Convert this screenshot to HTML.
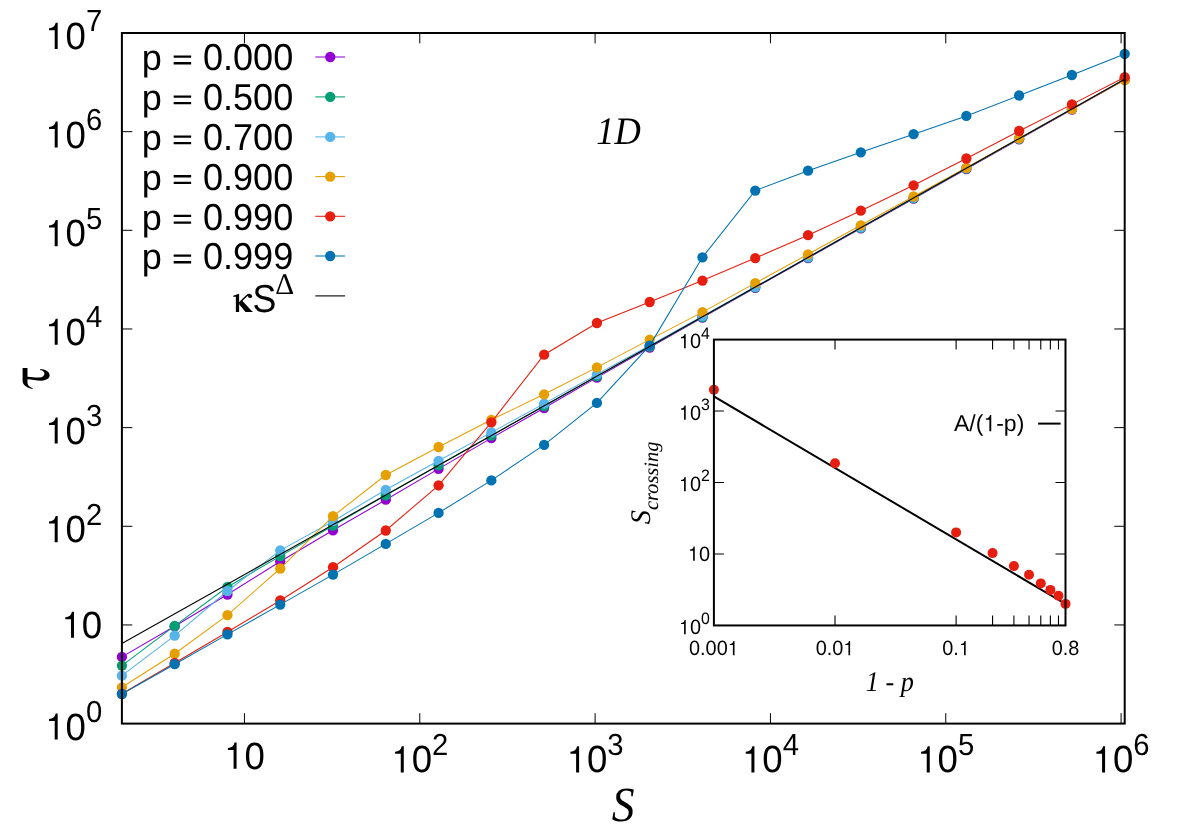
<!DOCTYPE html>
<html><head><meta charset="utf-8"><title>tau vs S</title>
<style>
html,body{margin:0;padding:0;background:#fff;}
body{width:1184px;height:829px;overflow:hidden;position:relative;font-family:"Liberation Sans",sans-serif;}
svg text{white-space:pre;text-rendering:geometricPrecision;}
</style></head><body>
<svg width="1184" height="829" viewBox="0 0 1184 829" style="position:absolute;left:0;top:0;will-change:transform">
<rect width="1184" height="829" fill="#fff"/>
<g stroke="#000" stroke-width="1" fill="none">
<path d="M244.45 723.6 V713.2 M244.45 33.0 V43.4"/>
<path d="M419.78 723.6 V713.2 M419.78 33.0 V43.4"/>
<path d="M595.10 723.6 V713.2 M595.10 33.0 V43.4"/>
<path d="M770.43 723.6 V713.2 M770.43 33.0 V43.4"/>
<path d="M945.76 723.6 V713.2 M945.76 33.0 V43.4"/>
<path d="M1121.09 723.6 V713.2 M1121.09 33.0 V43.4"/>
<path d="M121.9 624.94 H132.3 M1124.7 624.94 H1114.3"/>
<path d="M121.9 526.29 H132.3 M1124.7 526.29 H1114.3"/>
<path d="M121.9 427.63 H132.3 M1124.7 427.63 H1114.3"/>
<path d="M121.9 328.97 H132.3 M1124.7 328.97 H1114.3"/>
<path d="M121.9 230.31 H132.3 M1124.7 230.31 H1114.3"/>
<path d="M121.9 131.66 H132.3 M1124.7 131.66 H1114.3"/>
</g>
<polyline points="121.90,656.90 174.68,626.30 227.46,594.50 280.24,561.50 333.02,530.30 385.79,499.70 438.57,468.90 491.35,438.10 544.13,408.00 596.91,377.60 649.69,347.50 702.47,317.50 755.25,287.80 808.03,258.10 860.81,228.40 913.58,198.70 966.36,169.00 1019.14,139.30 1071.92,109.60 1124.70,79.90" fill="none" stroke="#9400d3" stroke-width="1.05"/>
<g fill="#9400d3"><circle cx="121.90" cy="656.90" r="5.15"/><circle cx="174.68" cy="626.30" r="5.15"/><circle cx="227.46" cy="594.50" r="5.15"/><circle cx="280.24" cy="561.50" r="5.15"/><circle cx="333.02" cy="530.30" r="5.15"/><circle cx="385.79" cy="499.70" r="5.15"/><circle cx="438.57" cy="468.90" r="5.15"/><circle cx="491.35" cy="438.10" r="5.15"/><circle cx="544.13" cy="408.00" r="5.15"/><circle cx="596.91" cy="377.60" r="5.15"/><circle cx="649.69" cy="347.50" r="5.15"/><circle cx="702.47" cy="317.50" r="5.15"/><circle cx="755.25" cy="287.80" r="5.15"/><circle cx="808.03" cy="258.10" r="5.15"/><circle cx="860.81" cy="228.40" r="5.15"/><circle cx="913.58" cy="198.70" r="5.15"/><circle cx="966.36" cy="169.00" r="5.15"/><circle cx="1019.14" cy="139.30" r="5.15"/><circle cx="1071.92" cy="109.60" r="5.15"/><circle cx="1124.70" cy="79.90" r="5.15"/></g>
<polyline points="121.90,665.60 174.68,625.90 227.46,587.00 280.24,556.10 333.02,525.70 385.79,495.30 438.57,465.30 491.35,435.50 544.13,406.20 596.91,376.40 649.69,346.70 702.47,317.00 755.25,287.30 808.03,257.60 860.81,227.90 913.58,198.20 966.36,168.50 1019.14,138.80 1071.92,109.10 1124.70,79.40" fill="none" stroke="#009e73" stroke-width="1.05"/>
<g fill="#009e73"><circle cx="121.90" cy="665.60" r="5.15"/><circle cx="174.68" cy="625.90" r="5.15"/><circle cx="227.46" cy="587.00" r="5.15"/><circle cx="280.24" cy="556.10" r="5.15"/><circle cx="333.02" cy="525.70" r="5.15"/><circle cx="385.79" cy="495.30" r="5.15"/><circle cx="438.57" cy="465.30" r="5.15"/><circle cx="491.35" cy="435.50" r="5.15"/><circle cx="544.13" cy="406.20" r="5.15"/><circle cx="596.91" cy="376.40" r="5.15"/><circle cx="649.69" cy="346.70" r="5.15"/><circle cx="702.47" cy="317.00" r="5.15"/><circle cx="755.25" cy="287.30" r="5.15"/><circle cx="808.03" cy="257.60" r="5.15"/><circle cx="860.81" cy="227.90" r="5.15"/><circle cx="913.58" cy="198.20" r="5.15"/><circle cx="966.36" cy="168.50" r="5.15"/><circle cx="1019.14" cy="138.80" r="5.15"/><circle cx="1071.92" cy="109.10" r="5.15"/><circle cx="1124.70" cy="79.40" r="5.15"/></g>
<polyline points="121.90,675.70 174.68,635.60 227.46,591.00 280.24,550.40 333.02,521.20 385.79,489.80 438.57,460.80 491.35,432.40 544.13,403.60 596.91,374.40 649.69,345.50 702.47,316.20 755.25,286.80 808.03,257.10 860.81,227.40 913.58,197.70 966.36,168.00 1019.14,138.30 1071.92,108.60 1124.70,78.90" fill="none" stroke="#56b4e9" stroke-width="1.05"/>
<g fill="#56b4e9"><circle cx="121.90" cy="675.70" r="5.15"/><circle cx="174.68" cy="635.60" r="5.15"/><circle cx="227.46" cy="591.00" r="5.15"/><circle cx="280.24" cy="550.40" r="5.15"/><circle cx="333.02" cy="521.20" r="5.15"/><circle cx="385.79" cy="489.80" r="5.15"/><circle cx="438.57" cy="460.80" r="5.15"/><circle cx="491.35" cy="432.40" r="5.15"/><circle cx="544.13" cy="403.60" r="5.15"/><circle cx="596.91" cy="374.40" r="5.15"/><circle cx="649.69" cy="345.50" r="5.15"/><circle cx="702.47" cy="316.20" r="5.15"/><circle cx="755.25" cy="286.80" r="5.15"/><circle cx="808.03" cy="257.10" r="5.15"/><circle cx="860.81" cy="227.40" r="5.15"/><circle cx="913.58" cy="197.70" r="5.15"/><circle cx="966.36" cy="168.00" r="5.15"/><circle cx="1019.14" cy="138.30" r="5.15"/><circle cx="1071.92" cy="108.60" r="5.15"/><circle cx="1124.70" cy="78.90" r="5.15"/></g>
<polyline points="121.90,687.30 174.68,653.70 227.46,615.10 280.24,568.50 333.02,516.20 385.79,475.00 438.57,447.00 491.35,419.80 544.13,394.30 596.91,367.40 649.69,339.60 702.47,312.10 755.25,283.10 808.03,254.30 860.81,225.30 913.58,196.50 966.36,167.80 1019.14,138.40 1071.92,109.00 1124.70,80.00" fill="none" stroke="#e69f00" stroke-width="1.05"/>
<g fill="#e69f00"><circle cx="121.90" cy="687.30" r="5.15"/><circle cx="174.68" cy="653.70" r="5.15"/><circle cx="227.46" cy="615.10" r="5.15"/><circle cx="280.24" cy="568.50" r="5.15"/><circle cx="333.02" cy="516.20" r="5.15"/><circle cx="385.79" cy="475.00" r="5.15"/><circle cx="438.57" cy="447.00" r="5.15"/><circle cx="491.35" cy="419.80" r="5.15"/><circle cx="544.13" cy="394.30" r="5.15"/><circle cx="596.91" cy="367.40" r="5.15"/><circle cx="649.69" cy="339.60" r="5.15"/><circle cx="702.47" cy="312.10" r="5.15"/><circle cx="755.25" cy="283.10" r="5.15"/><circle cx="808.03" cy="254.30" r="5.15"/><circle cx="860.81" cy="225.30" r="5.15"/><circle cx="913.58" cy="196.50" r="5.15"/><circle cx="966.36" cy="167.80" r="5.15"/><circle cx="1019.14" cy="138.40" r="5.15"/><circle cx="1071.92" cy="109.00" r="5.15"/><circle cx="1124.70" cy="80.00" r="5.15"/></g>
<polyline points="121.90,693.80 174.68,663.00 227.46,632.00 280.24,600.50 333.02,567.20 385.79,530.50 438.57,485.30 491.35,422.30 544.13,354.70 596.91,323.00 649.69,302.00 702.47,280.60 755.25,258.10 808.03,235.20 860.81,210.70 913.58,185.30 966.36,158.50 1019.14,131.00 1071.92,104.40 1124.70,77.20" fill="none" stroke="#e51e10" stroke-width="1.05"/>
<g fill="#e51e10"><circle cx="121.90" cy="693.80" r="5.15"/><circle cx="174.68" cy="663.00" r="5.15"/><circle cx="227.46" cy="632.00" r="5.15"/><circle cx="280.24" cy="600.50" r="5.15"/><circle cx="333.02" cy="567.20" r="5.15"/><circle cx="385.79" cy="530.50" r="5.15"/><circle cx="438.57" cy="485.30" r="5.15"/><circle cx="491.35" cy="422.30" r="5.15"/><circle cx="544.13" cy="354.70" r="5.15"/><circle cx="596.91" cy="323.00" r="5.15"/><circle cx="649.69" cy="302.00" r="5.15"/><circle cx="702.47" cy="280.60" r="5.15"/><circle cx="755.25" cy="258.10" r="5.15"/><circle cx="808.03" cy="235.20" r="5.15"/><circle cx="860.81" cy="210.70" r="5.15"/><circle cx="913.58" cy="185.30" r="5.15"/><circle cx="966.36" cy="158.50" r="5.15"/><circle cx="1019.14" cy="131.00" r="5.15"/><circle cx="1071.92" cy="104.40" r="5.15"/><circle cx="1124.70" cy="77.20" r="5.15"/></g>
<polyline points="121.90,694.00 174.68,664.20 227.46,634.40 280.24,604.60 333.02,574.60 385.79,543.90 438.57,512.90 491.35,480.40 544.13,444.90 596.91,402.90 649.69,345.60 702.47,257.30 755.25,190.60 808.03,170.70 860.81,152.30 913.58,134.20 966.36,115.90 1019.14,95.50 1071.92,75.00 1124.70,53.90" fill="none" stroke="#0072b2" stroke-width="1.05"/>
<g fill="#0072b2"><circle cx="121.90" cy="694.00" r="5.15"/><circle cx="174.68" cy="664.20" r="5.15"/><circle cx="227.46" cy="634.40" r="5.15"/><circle cx="280.24" cy="604.60" r="5.15"/><circle cx="333.02" cy="574.60" r="5.15"/><circle cx="385.79" cy="543.90" r="5.15"/><circle cx="438.57" cy="512.90" r="5.15"/><circle cx="491.35" cy="480.40" r="5.15"/><circle cx="544.13" cy="444.90" r="5.15"/><circle cx="596.91" cy="402.90" r="5.15"/><circle cx="649.69" cy="345.60" r="5.15"/><circle cx="702.47" cy="257.30" r="5.15"/><circle cx="755.25" cy="190.60" r="5.15"/><circle cx="808.03" cy="170.70" r="5.15"/><circle cx="860.81" cy="152.30" r="5.15"/><circle cx="913.58" cy="134.20" r="5.15"/><circle cx="966.36" cy="115.90" r="5.15"/><circle cx="1019.14" cy="95.50" r="5.15"/><circle cx="1071.92" cy="75.00" r="5.15"/><circle cx="1124.70" cy="53.90" r="5.15"/></g>
<path d="M121.9 643.50 L1124.7 79.20" stroke="#000" stroke-width="1.1" fill="none"/>
<path d="M315.3 57.0 H345.1" stroke="#9400d3" stroke-width="1.05"/><circle cx="330.2" cy="57.0" r="5.15" fill="#9400d3"/>
<path d="M315.3 96.9 H345.1" stroke="#009e73" stroke-width="1.05"/><circle cx="330.2" cy="96.9" r="5.15" fill="#009e73"/>
<path d="M315.3 136.9 H345.1" stroke="#56b4e9" stroke-width="1.05"/><circle cx="330.2" cy="136.9" r="5.15" fill="#56b4e9"/>
<path d="M315.3 176.6 H345.1" stroke="#e69f00" stroke-width="1.05"/><circle cx="330.2" cy="176.6" r="5.15" fill="#e69f00"/>
<path d="M315.3 216.3 H345.1" stroke="#e51e10" stroke-width="1.05"/><circle cx="330.2" cy="216.3" r="5.15" fill="#e51e10"/>
<path d="M315.3 256.0 H345.1" stroke="#0072b2" stroke-width="1.05"/><circle cx="330.2" cy="256.0" r="5.15" fill="#0072b2"/>
<path d="M315.3 295.9 H345.1" stroke="#000" stroke-width="1.1"/>
<rect x="121.9" y="33.0" width="1002.80" height="690.60" fill="none" stroke="#000" stroke-width="2"/>
<rect x="713.9" y="339.6" width="351.60" height="285.85" fill="#fff" stroke="none"/>
<g stroke="#000" stroke-width="1.1" fill="none">
<path d="M835.01 625.45 V615.45 M835.01 339.6 V349.6"/>
<path d="M956.12 625.45 V615.45 M956.12 339.6 V349.6"/>
<path d="M992.58 625.45 V615.45 M992.58 339.6 V349.6"/>
<path d="M1013.91 625.45 V615.45 M1013.91 339.6 V349.6"/>
<path d="M1029.04 625.45 V615.45 M1029.04 339.6 V349.6"/>
<path d="M1040.78 625.45 V615.45 M1040.78 339.6 V349.6"/>
<path d="M1050.37 625.45 V615.45 M1050.37 339.6 V349.6"/>
<path d="M1058.48 625.45 V615.45 M1058.48 339.6 V349.6"/>
<path d="M713.9 553.99 H723.9 M1065.5 553.99 H1055.5"/>
<path d="M713.9 482.53 H723.9 M1065.5 482.53 H1055.5"/>
<path d="M713.9 411.06 H723.9 M1065.5 411.06 H1055.5"/>
</g>
<path d="M713.9 396.4 L1065.5 604.0" stroke="#000" stroke-width="2" fill="none"/>
<g fill="#e51e10"><circle cx="713.90" cy="389.7" r="5.0"/><circle cx="835.01" cy="463.2" r="5.0"/><circle cx="956.12" cy="532.4" r="5.0"/><circle cx="992.58" cy="553.1" r="5.0"/><circle cx="1013.91" cy="566.1" r="5.0"/><circle cx="1029.04" cy="574.7" r="5.0"/><circle cx="1040.78" cy="583.4" r="5.0"/><circle cx="1050.37" cy="589.9" r="5.0"/><circle cx="1058.48" cy="595.8" r="5.0"/><circle cx="1065.50" cy="603.9" r="5.0"/></g>
<path d="M1038.1 423.6 H1060.6" stroke="#000" stroke-width="2"/>
<rect x="713.9" y="339.6" width="351.60" height="285.85" fill="none" stroke="#000" stroke-width="2"/>
<g font-family="Liberation Sans, sans-serif" fill="#000">
<path transform="translate(45.22,739.50) scale(0.03660,-0.03660)" d="M259 0V508H104V563C208 570 268 615 286 713H341V0Z"/><text transform="translate(65.57,739.50) scale(1,1.04)" font-size="36.6">0</text><text transform="translate(85.92,721.90) scale(1,1.04)" font-size="29.28">0</text>
<path transform="translate(61.50,637.84) scale(0.03660,-0.03660)" d="M259 0V508H104V563C208 570 268 615 286 713H341V0Z"/><text transform="translate(81.85,637.84) scale(1,1.04)" font-size="36.6">0</text>
<path transform="translate(45.22,542.19) scale(0.03660,-0.03660)" d="M259 0V508H104V563C208 570 268 615 286 713H341V0Z"/><text transform="translate(65.57,542.19) scale(1,1.04)" font-size="36.6">0</text><text transform="translate(85.92,524.59) scale(1,1.04)" font-size="29.28">2</text>
<path transform="translate(45.22,443.53) scale(0.03660,-0.03660)" d="M259 0V508H104V563C208 570 268 615 286 713H341V0Z"/><text transform="translate(65.57,443.53) scale(1,1.04)" font-size="36.6">0</text><text transform="translate(85.92,425.93) scale(1,1.04)" font-size="29.28">3</text>
<path transform="translate(45.22,344.87) scale(0.03660,-0.03660)" d="M259 0V508H104V563C208 570 268 615 286 713H341V0Z"/><text transform="translate(65.57,344.87) scale(1,1.04)" font-size="36.6">0</text><text transform="translate(85.92,327.27) scale(1,1.04)" font-size="29.28">4</text>
<path transform="translate(45.22,246.21) scale(0.03660,-0.03660)" d="M259 0V508H104V563C208 570 268 615 286 713H341V0Z"/><text transform="translate(65.57,246.21) scale(1,1.04)" font-size="36.6">0</text><text transform="translate(85.92,228.61) scale(1,1.04)" font-size="29.28">5</text>
<path transform="translate(45.22,147.56) scale(0.03660,-0.03660)" d="M259 0V508H104V563C208 570 268 615 286 713H341V0Z"/><text transform="translate(65.57,147.56) scale(1,1.04)" font-size="36.6">0</text><text transform="translate(85.92,129.96) scale(1,1.04)" font-size="29.28">6</text>
<path transform="translate(45.22,48.90) scale(0.03660,-0.03660)" d="M259 0V508H104V563C208 570 268 615 286 713H341V0Z"/><text transform="translate(65.57,48.90) scale(1,1.04)" font-size="36.6">0</text><text transform="translate(85.92,31.30) scale(1,1.04)" font-size="29.28">7</text>
<path transform="translate(224.10,768.70) scale(0.03660,-0.03660)" d="M259 0V508H104V563C208 570 268 615 286 713H341V0Z"/><text transform="translate(244.45,768.70) scale(1,1.04)" font-size="36.6">0</text>
<path transform="translate(391.29,772.40) scale(0.03660,-0.03660)" d="M259 0V508H104V563C208 570 268 615 286 713H341V0Z"/><text transform="translate(411.64,772.40) scale(1,1.04)" font-size="36.6">0</text><text transform="translate(431.99,754.80) scale(1,1.04)" font-size="29.28">2</text>
<path transform="translate(566.62,772.40) scale(0.03660,-0.03660)" d="M259 0V508H104V563C208 570 268 615 286 713H341V0Z"/><text transform="translate(586.96,772.40) scale(1,1.04)" font-size="36.6">0</text><text transform="translate(607.31,754.80) scale(1,1.04)" font-size="29.28">3</text>
<path transform="translate(741.94,772.40) scale(0.03660,-0.03660)" d="M259 0V508H104V563C208 570 268 615 286 713H341V0Z"/><text transform="translate(762.29,772.40) scale(1,1.04)" font-size="36.6">0</text><text transform="translate(782.64,754.80) scale(1,1.04)" font-size="29.28">4</text>
<path transform="translate(917.27,772.40) scale(0.03660,-0.03660)" d="M259 0V508H104V563C208 570 268 615 286 713H341V0Z"/><text transform="translate(937.62,772.40) scale(1,1.04)" font-size="36.6">0</text><text transform="translate(957.97,754.80) scale(1,1.04)" font-size="29.28">5</text>
<path transform="translate(1092.60,772.40) scale(0.03660,-0.03660)" d="M259 0V508H104V563C208 570 268 615 286 713H341V0Z"/><text transform="translate(1112.95,772.40) scale(1,1.04)" font-size="36.6">0</text><text transform="translate(1133.30,754.80) scale(1,1.04)" font-size="29.28">6</text>
<text transform="translate(141.75,70.30) scale(1,1.0)" font-size="36.1">p </text><path transform="translate(171.86,70.30) scale(0.03610,-0.03610)" d="M50 163H534V227H50ZM50 346H534V410H50Z"/><text transform="translate(192.94,70.30) scale(1,1.04)" font-size="36.1"> 0.000</text>
<text transform="translate(141.75,110.20) scale(1,1.0)" font-size="36.1">p </text><path transform="translate(171.86,110.20) scale(0.03610,-0.03610)" d="M50 163H534V227H50ZM50 346H534V410H50Z"/><text transform="translate(192.94,110.20) scale(1,1.04)" font-size="36.1"> 0.500</text>
<text transform="translate(141.75,150.20) scale(1,1.0)" font-size="36.1">p </text><path transform="translate(171.86,150.20) scale(0.03610,-0.03610)" d="M50 163H534V227H50ZM50 346H534V410H50Z"/><text transform="translate(192.94,150.20) scale(1,1.04)" font-size="36.1"> 0.700</text>
<text transform="translate(141.75,189.90) scale(1,1.0)" font-size="36.1">p </text><path transform="translate(171.86,189.90) scale(0.03610,-0.03610)" d="M50 163H534V227H50ZM50 346H534V410H50Z"/><text transform="translate(192.94,189.90) scale(1,1.04)" font-size="36.1"> 0.900</text>
<text transform="translate(141.75,229.60) scale(1,1.0)" font-size="36.1">p </text><path transform="translate(171.86,229.60) scale(0.03610,-0.03610)" d="M50 163H534V227H50ZM50 346H534V410H50Z"/><text transform="translate(192.94,229.60) scale(1,1.04)" font-size="36.1"> 0.990</text>
<text transform="translate(141.75,269.30) scale(1,1.0)" font-size="36.1">p </text><path transform="translate(171.86,269.30) scale(0.03610,-0.03610)" d="M50 163H534V227H50ZM50 346H534V410H50Z"/><text transform="translate(192.94,269.30) scale(1,1.04)" font-size="36.1"> 0.999</text>
<text transform="translate(252.5,312.4) scale(0.95,1.04)" font-size="37.6">S</text>
</g>
<g transform="translate(225,265) scale(0.0724)" fill="#000"><path d="M112 424L195 398V650H150V440L114 438Z"/><path d="M195 542L236 492L366 632L380 640V650H283Z"/><path d="M195 530Q250 470 300 425Q322 405 348 410" fill="none" stroke="#000" stroke-width="22"/><circle cx="347" cy="430" r="27"/></g>
<text transform="translate(275.2,294) scale(1,1.02)" font-family="Liberation Serif, serif" font-size="29.4" fill="#000">Δ</text>
<path transform="translate(10,355) scale(0.0543)" fill="#000" d="M232 238L322 238L322 400C400 405 480 418 540 415C590 412 632 385 635 345C637 310 610 285 555 275L558 258C640 262 725 300 730 370C733 430 670 470 580 472C500 474 400 452 322 448L322 510C322 560 360 590 420 612L415 628C330 605 232 570 232 470Z"/>
<text transform="translate(623.1,821.2) scale(0.93,1)" font-family="Liberation Serif, serif" font-style="italic" font-size="49" text-anchor="middle" fill="#000">S</text>
<text transform="translate(618.6,143.8) scale(0.935,1)" font-family="Liberation Serif, serif" font-style="italic" font-size="39" text-anchor="middle" fill="#000">1D</text>
<g font-family="Liberation Sans, sans-serif" fill="#000">
<path transform="translate(678.92,634.15) scale(0.01990,-0.01990)" d="M259 0V508H104V563C208 570 268 615 286 713H341V0Z"/><text transform="translate(689.98,634.15) scale(1,1.04)" font-size="19.9">0</text><text transform="translate(701.05,624.35) scale(1,1.04)" font-size="15.92">0</text>
<path transform="translate(687.97,560.79) scale(0.01990,-0.01990)" d="M259 0V508H104V563C208 570 268 615 286 713H341V0Z"/><text transform="translate(699.04,560.79) scale(1,1.04)" font-size="19.9">0</text>
<path transform="translate(678.92,491.23) scale(0.01990,-0.01990)" d="M259 0V508H104V563C208 570 268 615 286 713H341V0Z"/><text transform="translate(689.98,491.23) scale(1,1.04)" font-size="19.9">0</text><text transform="translate(701.05,481.43) scale(1,1.04)" font-size="15.92">2</text>
<path transform="translate(678.92,419.76) scale(0.01990,-0.01990)" d="M259 0V508H104V563C208 570 268 615 286 713H341V0Z"/><text transform="translate(689.98,419.76) scale(1,1.04)" font-size="19.9">0</text><text transform="translate(701.05,409.96) scale(1,1.04)" font-size="15.92">3</text>
<path transform="translate(678.92,348.30) scale(0.01990,-0.01990)" d="M259 0V508H104V563C208 570 268 615 286 713H341V0Z"/><text transform="translate(689.98,348.30) scale(1,1.04)" font-size="19.9">0</text><text transform="translate(701.05,338.50) scale(1,1.04)" font-size="15.92">4</text>
<text transform="translate(689.01,655.20) scale(1,1.04)" font-size="19.9">0.00</text><path transform="translate(727.73,655.20) scale(0.01990,-0.01990)" d="M259 0V508H104V563C208 570 268 615 286 713H341V0Z"/>
<text transform="translate(815.65,655.20) scale(1,1.04)" font-size="19.9">0.0</text><path transform="translate(843.31,655.20) scale(0.01990,-0.01990)" d="M259 0V508H104V563C208 570 268 615 286 713H341V0Z"/>
<text transform="translate(942.29,655.20) scale(1,1.04)" font-size="19.9">0.</text><path transform="translate(958.89,655.20) scale(0.01990,-0.01990)" d="M259 0V508H104V563C208 570 268 615 286 713H341V0Z"/>
<text transform="translate(1051.67,655.20) scale(1,1.04)" font-size="19.9">0.8</text>
<text transform="translate(954.01,431.35) scale(1,1.0)" font-size="23">A/(</text><path transform="translate(983.41,431.35) scale(0.02300,-0.02300)" d="M259 0V508H104V563C208 570 268 615 286 713H341V0Z"/><text transform="translate(996.19,431.35) scale(1,1.0)" font-size="23">-p)</text>
</g>
<text transform="translate(889.8,690.8) scale(0.915,1)" font-family="Liberation Serif, serif" font-style="italic" font-size="28.6" text-anchor="middle" fill="#000">1 - p</text>
<text transform="translate(649.8,524.2) rotate(-90)" font-family="Liberation Serif, serif" font-style="italic" font-size="28.4" fill="#000">S<tspan font-size="20.4" dy="8.4">crossing</tspan></text>
</svg>
</body></html>
